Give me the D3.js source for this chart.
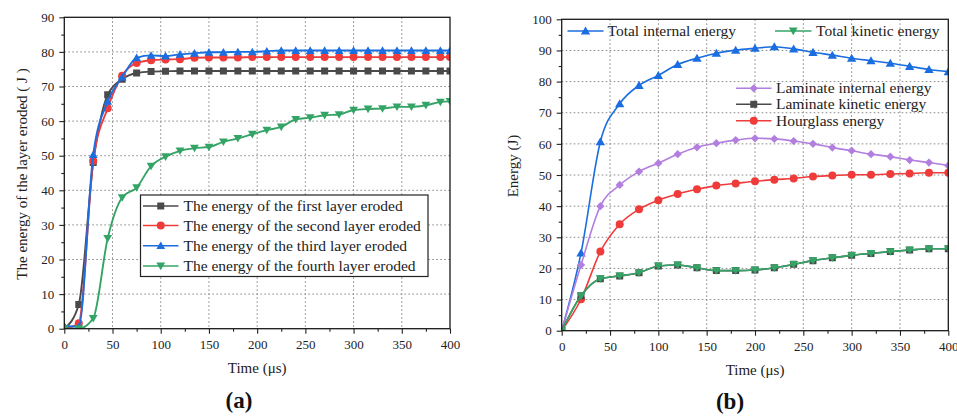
<!DOCTYPE html>
<html>
<head>
<meta charset="utf-8">
<script src="https://cdn.jsdelivr.net/npm/d3@7"></script>
<style>
  body { margin: 0; background: #fff; }
  svg, svg text { font-family: "Liberation Serif", "Times New Roman", serif; }
  svg { display: block; }
</style>
</head>
<body>
<svg id="fig" width="957" height="416"></svg>
<script>
// ---------- Panel (a): energy of each eroded layer ----------
const timeA = [0, 15, 30, 45, 60, 75, 90, 105, 120, 135, 150, 165, 180, 195, 210,
               225, 240, 255, 270, 285, 300, 315, 330, 345, 360, 375, 390, 400];
const firstLayer  = [0, 7.0, 48.0, 67.6, 72.1, 73.9, 74.3, 74.4, 74.5, 74.5, 74.5, 74.5, 74.5, 74.5,
                     74.5, 74.5, 74.5, 74.5, 74.5, 74.5, 74.5, 74.5, 74.5, 74.5, 74.5, 74.5, 74.5, 74.5];
const secondLayer = [0, 1.6, 48.5, 63.7, 73.1, 76.8, 77.6, 77.8, 77.9, 78.3, 78.4, 78.4, 78.4, 78.5,
                     78.5, 78.5, 78.5, 78.5, 78.5, 78.5, 78.5, 78.5, 78.5, 78.5, 78.5, 78.5, 78.5, 78.5];
const thirdLayer  = [0.8, 0.6, 50.3, 65.7, 72.7, 78.3, 79.0, 78.8, 79.3, 79.6, 79.9, 79.9, 80.0, 80.0,
                     80.2, 80.4, 80.4, 80.4, 80.4, 80.4, 80.4, 80.4, 80.4, 80.4, 80.4, 80.4, 80.4, 80.4];
const fourthLayer = [0, 0, 3.0, 26.1, 37.9, 40.8, 47.0, 49.7, 51.4, 52.2, 52.5, 54.0, 55.0, 56.2,
                     57.4, 58.3, 60.5, 61.0, 61.7, 61.9, 63.2, 63.5, 63.6, 64.1, 64.1, 64.6, 65.5, 65.7];
const labelsA = [
  "The energy of the first layer eroded",
  "The energy of the second layer eroded",
  "The energy of the third layer eroded",
  "The energy of the fourth layer eroded"
];

// ---------- Panel (b): energy balance ----------
const timeB = [0, 20, 40, 60, 80, 100, 120, 140, 160, 180, 200, 220, 240, 260, 280, 300, 320, 340, 360, 380, 400];
const totalInternal    = [0, 25.0, 60.7, 72.9, 78.8, 82.0, 85.5, 87.5, 89.1, 90.1, 90.7, 91.2, 90.5,
                          89.4, 88.5, 87.5, 86.7, 85.9, 84.9, 83.9, 83.2];
const totalKinetic     = [0, 11.2, 16.7, 17.6, 18.6, 20.8, 21.1, 20.2, 19.3, 19.3, 19.5, 20.2, 21.3,
                          22.5, 23.4, 24.2, 24.8, 25.4, 25.9, 26.3, 26.3];
const laminateInternal = [0, 21.1, 40.0, 46.8, 51.1, 53.8, 56.7, 58.9, 60.2, 61.2, 61.8, 61.6, 60.9,
                          60.0, 58.8, 57.8, 56.7, 55.9, 54.8, 54.0, 53.0];
const laminateKinetic  = [0, 11.2, 16.7, 17.6, 18.6, 20.8, 21.1, 20.2, 19.3, 19.3, 19.5, 20.2, 21.3,
                          22.5, 23.4, 24.2, 24.8, 25.4, 25.9, 26.3, 26.3];
const hourglass        = [0, 10.1, 25.4, 34.2, 39.0, 41.9, 43.9, 45.4, 46.6, 47.3, 48.0, 48.5, 48.9,
                          49.5, 49.8, 50.1, 50.1, 50.3, 50.5, 50.7, 50.7];

const xTicks = [0, 50, 100, 150, 200, 250, 300, 350, 400];
const yTicksA = [0, 10, 20, 30, 40, 50, 60, 70, 80, 90];
const yTicksB = [0, 10, 20, 30, 40, 50, 60, 70, 80, 90, 100];

const SERIF = "Liberation Serif, Times New Roman, serif";
const COLORS = {
  gray: "#4a4a4a", red: "#f03b3b", blue: "#1b6ee0", green: "#34a466", purple: "#b27ee0"
};

const svg = d3.select("#fig");

// marker shapes drawn around the origin
function markerPath(kind, s) {
  const h = s / 2;
  switch (kind) {
    case "square": return `M${-h},${-h}H${h}V${h}H${-h}Z`;
    case "circle": return d3.symbol(d3.symbolCircle, Math.PI * h * h)();
    case "up": return `M0,${-h * 1.05}L${h * 1.1},${h * 0.85}L${-h * 1.1},${h * 0.85}Z`;
    case "down": return `M0,${h * 1.05}L${h * 1.1},${-h * 0.85}L${-h * 1.1},${-h * 0.85}Z`;
    case "diamond": return `M0,${-h * 1.1}L${h * 1.1},0L0,${h * 1.1}L${-h * 1.1},0Z`;
  }
}

function panel(cfg) {
  const g = svg.append("g").attr("font-family", SERIF);
  const x = d3.scaleLinear().domain([0, 400]).range([cfg.left, cfg.right]);
  const y = d3.scaleLinear().domain([0, cfg.yMax]).range([cfg.bottom, cfg.top]);

  // dotted grid at major ticks
  const grid = g.append("g").attr("stroke", "#8a8a8a").attr("stroke-width", 1)
    .attr("stroke-dasharray", "1.6,2.4");
  grid.selectAll("line.vx").data(xTicks.filter(v => v > 0 && v < 400)).join("line")
    .attr("x1", d => x(d)).attr("x2", d => x(d)).attr("y1", cfg.top).attr("y2", cfg.bottom);
  grid.selectAll("line.hy").data(cfg.yTicks.filter(v => v > 0 && v < cfg.yMax)).join("line")
    .attr("x1", cfg.left).attr("x2", cfg.right).attr("y1", d => y(d)).attr("y2", d => y(d));

  // axes: major and minor ticks outward
  const xMinor = d3.range(25, 400, 50);
  const yMinor = d3.range(5, cfg.yMax, 10);
  const axX = g.append("g").attr("transform", `translate(0,${cfg.bottom})`)
    .call(d3.axisBottom(x).tickValues(xTicks).tickSize(5).tickPadding(6).tickFormat(d3.format("d")));
  g.append("g").attr("transform", `translate(0,${cfg.bottom})`)
    .call(d3.axisBottom(x).tickValues(xMinor).tickSize(3).tickFormat(""))
    .call(a => a.select(".domain").remove());
  const axY = g.append("g").attr("transform", `translate(${cfg.left},0)`)
    .call(d3.axisLeft(y).tickValues(cfg.yTicks).tickSize(5).tickPadding(5).tickFormat(d3.format("d")));
  g.append("g").attr("transform", `translate(${cfg.left},0)`)
    .call(d3.axisLeft(y).tickValues(yMinor).tickSize(3).tickFormat(""))
    .call(a => a.select(".domain").remove());
  g.selectAll(".tick line").attr("stroke", "#222").attr("stroke-width", 1.1);
  g.selectAll(".domain").attr("stroke", "none");
  [axX, axY].forEach(a => {
    a.attr("font-family", SERIF).attr("font-size", 13);
    a.selectAll("text").attr("font-family", SERIF).attr("font-size", 13).attr("fill", "#222");
  });

  // clip region for the plotted curves
  const clipId = "clip-" + cfg.id;
  svg.append("defs").append("clipPath").attr("id", clipId).append("rect")
    .attr("x", cfg.left).attr("y", cfg.top)
    .attr("width", cfg.right - cfg.left).attr("height", cfg.bottom - cfg.top);

  const plot = g.append("g").attr("clip-path", `url(#${clipId})`);
  const line = d3.line().x(d => x(d[0])).y(d => y(d[1])).curve(d3.curveMonotoneX);
  cfg.series.forEach(s => {
    const pts = cfg.xs.map((t, i) => [t, s.values[i]]);
    plot.append("path").datum(pts).attr("d", line)
      .attr("fill", "none").attr("stroke", s.color).attr("stroke-width", cfg.lineWidth);
    plot.append("g").selectAll("path").data(pts).join("path")
      .attr("transform", d => `translate(${x(d[0])},${y(d[1])})`)
      .attr("d", markerPath(s.marker, s.size)).attr("fill", s.color);
  });

  // frame
  g.append("rect").attr("x", cfg.left).attr("y", cfg.top)
    .attr("width", cfg.right - cfg.left).attr("height", cfg.bottom - cfg.top)
    .attr("fill", "none").attr("stroke", "#1a1a1a").attr("stroke-width", 1.3);

  // axis titles
  g.append("text").attr("x", (cfg.left + cfg.right) / 2).attr("y", cfg.xTitleY)
    .attr("font-family", SERIF)
    .attr("text-anchor", "middle").attr("font-size", 15).attr("fill", "#222").text("Time (μs)");
  g.append("text")
    .attr("transform", `translate(${cfg.yTitleX},${cfg.yTitleY}) rotate(-90)`)
    .attr("font-family", SERIF)
    .attr("text-anchor", "middle").attr("dy", "0.35em")
    .attr("font-size", 15).attr("fill", "#222").text(cfg.yTitle);
  g.append("text").attr("x", cfg.capX).attr("y", cfg.capY)
    .attr("font-family", SERIF)
    .attr("text-anchor", "middle").attr("font-size", 23).attr("font-weight", "bold")
    .attr("fill", "#111").text(cfg.caption);

  return { g, x, y };
}

function legendItem(g, x0, x1, yy, s, textX, label) {
  g.append("line").attr("x1", x0).attr("x2", x1).attr("y1", yy).attr("y2", yy)
    .attr("stroke", s.color).attr("stroke-width", 1.5);
  g.append("path").attr("transform", `translate(${(x0 + x1) / 2},${yy})`)
    .attr("d", markerPath(s.marker, s.size)).attr("fill", s.color);
  g.append("text").attr("x", textX).attr("y", yy).attr("dy", "0.33em")
    .attr("font-family", SERIF)
    .attr("font-size", 15.5).attr("fill", "#222").text(label);
}

// ---------- draw (a) ----------
const seriesA = [
  { values: firstLayer,  color: COLORS.gray,  marker: "square", size: 7 },
  { values: secondLayer, color: COLORS.red,   marker: "circle", size: 8 },
  { values: thirdLayer,  color: COLORS.blue,  marker: "up",     size: 8 },
  { values: fourthLayer, color: COLORS.green, marker: "down",   size: 8 }
];
const A = panel({
  id: "a", left: 64.3, right: 450, top: 17.3, bottom: 328.7, yMax: 90, yTicks: yTicksA,
  xs: timeA, series: seriesA, lineWidth: 1.9,
  xTitleY: 373, yTitleX: 21.5, yTitleY: 174, yTitle: "The energy of the layer eroded ( J )",
  capX: 239, capY: 408, caption: "(a)"
});
const legA = A.g.append("g");
legA.append("rect").attr("x", 140.5).attr("y", 195).attr("width", 287.5).attr("height", 81.5)
  .attr("fill", "#fff").attr("stroke", "#222").attr("stroke-width", 1.2);
[206, 225.5, 245.7, 266].forEach((yy, i) =>
  legendItem(legA, 143, 178.5, yy, seriesA[i], 183.5, labelsA[i]));

// ---------- draw (b) ----------
const sB = {
  totalInternal:    { values: totalInternal,    color: COLORS.blue,   marker: "up",      size: 8.5 },
  laminateInternal: { values: laminateInternal, color: COLORS.purple, marker: "diamond", size: 7.5 },
  hourglass:        { values: hourglass,        color: COLORS.red,    marker: "circle",  size: 8 },
  laminateKinetic:  { values: laminateKinetic,  color: COLORS.gray,   marker: "square",  size: 7 },
  totalKinetic:     { values: totalKinetic,     color: COLORS.green,  marker: "down",    size: 8 }
};
const B = panel({
  id: "b", left: 561.7, right: 948.3, top: 19.3, bottom: 330.7, yMax: 100, yTicks: yTicksB,
  xs: timeB,
  series: [sB.totalInternal, sB.laminateInternal, sB.hourglass, sB.laminateKinetic, sB.totalKinetic],
  lineWidth: 1.6,
  xTitleY: 375, yTitleX: 513, yTitleY: 166, yTitle: "Energy (J)",
  capX: 730, capY: 409, caption: "(b)"
});
const legB = B.g.append("g");
legendItem(legB, 567.5, 603.5, 31, sB.totalInternal, 607.5, "Total internal energy");
legendItem(legB, 775, 811.5, 31, sB.totalKinetic, 816, "Total kinetic energy");
legendItem(legB, 736, 771.5, 88.3, sB.laminateInternal, 776, "Laminate internal energy");
legendItem(legB, 736, 771.5, 104.3, sB.laminateKinetic, 776, "Laminate kinetic energy");
legendItem(legB, 736, 771.5, 120.7, sB.hourglass, 776, "Hourglass energy");
</script>
</body>
</html>
